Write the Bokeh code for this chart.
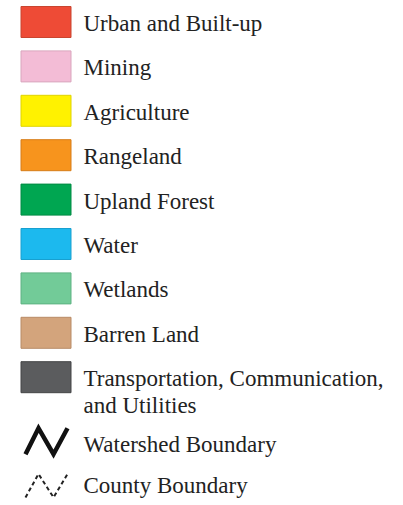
from bokeh.plotting import figure
from bokeh.models import ColumnDataSource, Range1d
from bokeh.core.properties import value
from bokeh.embed import file_html
from bokeh.resources import INLINE

# ---- data ----
categories = ["Urban and Built-up", "Mining", "Agriculture", "Rangeland",
              "Upland Forest", "Water", "Wetlands", "Barren Land",
              "Transportation, Communication,"]
colors = ["#ee4b36", "#f3bcd6", "#fff200", "#f7941d", "#00a651",
          "#1cb9ee", "#72cb98", "#d3a47c", "#5b5c5e"]
edge_colors = ["#c9452f", "#d9a6bd", "#e0d400", "#d77d18", "#008a44",
               "#18a0d0", "#5fb283", "#b88b67", "#444547"]
extra_line = "and Utilities"
line_labels = ["Watershed Boundary", "County Boundary"]

# ---- layout (screen pixel coordinates) ----
W, H = 400, 503
p = figure(width=W, height=H, output_backend="svg", toolbar_location=None,
           x_range=Range1d(0, W), y_range=Range1d(H, 0),
           min_border=0, outline_line_color=None, background_fill_color="white")
p.xaxis.visible = False
p.yaxis.visible = False
p.grid.visible = False

row0, step = 21.5, 44.4
sw_x0, sw_x1, sw_h = 20.5, 70.5, 31
ys = [row0 + i * step for i in range(len(categories))]

src = ColumnDataSource(dict(
    left=[sw_x0] * len(ys), right=[sw_x1] * len(ys),
    top=[y - sw_h / 2 for y in ys], bottom=[y + sw_h / 2 for y in ys],
    fill=colors, edge=edge_colors,
    tx=[83] * len(ys), ty=[y + 1.5 for y in ys], label=categories,
))
p.quad(left="left", right="right", top="top", bottom="bottom", source=src,
       fill_color="fill", line_color="edge", line_width=1)

font = value("Liberation Serif")
p.text(x="tx", y="ty", text="label", source=src, text_font=font,
       text_font_size="23px", text_color="#222222", text_baseline="alphabetic")

# second line of transportation label
p.text(x=[83], y=[ys[-1] + 28], text=[extra_line], text_font=font,
       text_font_size="23px", text_color="#222222", text_baseline="alphabetic")

# boundary symbols
icon_y = [ys[-1] + 64, ys[-1] + 108.5]
text_y = [ys[-1] + 67, ys[-1] + 108]
zig_dx = [0, 13, 28, 42]
zig_dy = [13, -13, 13, -13]
ix = 25
p.line(x=[ix + d for d in zig_dx], y=[icon_y[0] + d for d in zig_dy],
       line_color="#111111", line_width=4.5, line_join="miter")
p.line(x=[ix + d for d in zig_dx], y=[icon_y[1] + d * 0.9 for d in zig_dy],
       line_color="#222222", line_width=2, line_dash="4 3")
p.text(x=[83, 83], y=text_y, text=line_labels, text_font=font,
       text_font_size="23px", text_color="#222222", text_baseline="alphabetic")

open("out.html", "w").write(file_html(p, INLINE))
